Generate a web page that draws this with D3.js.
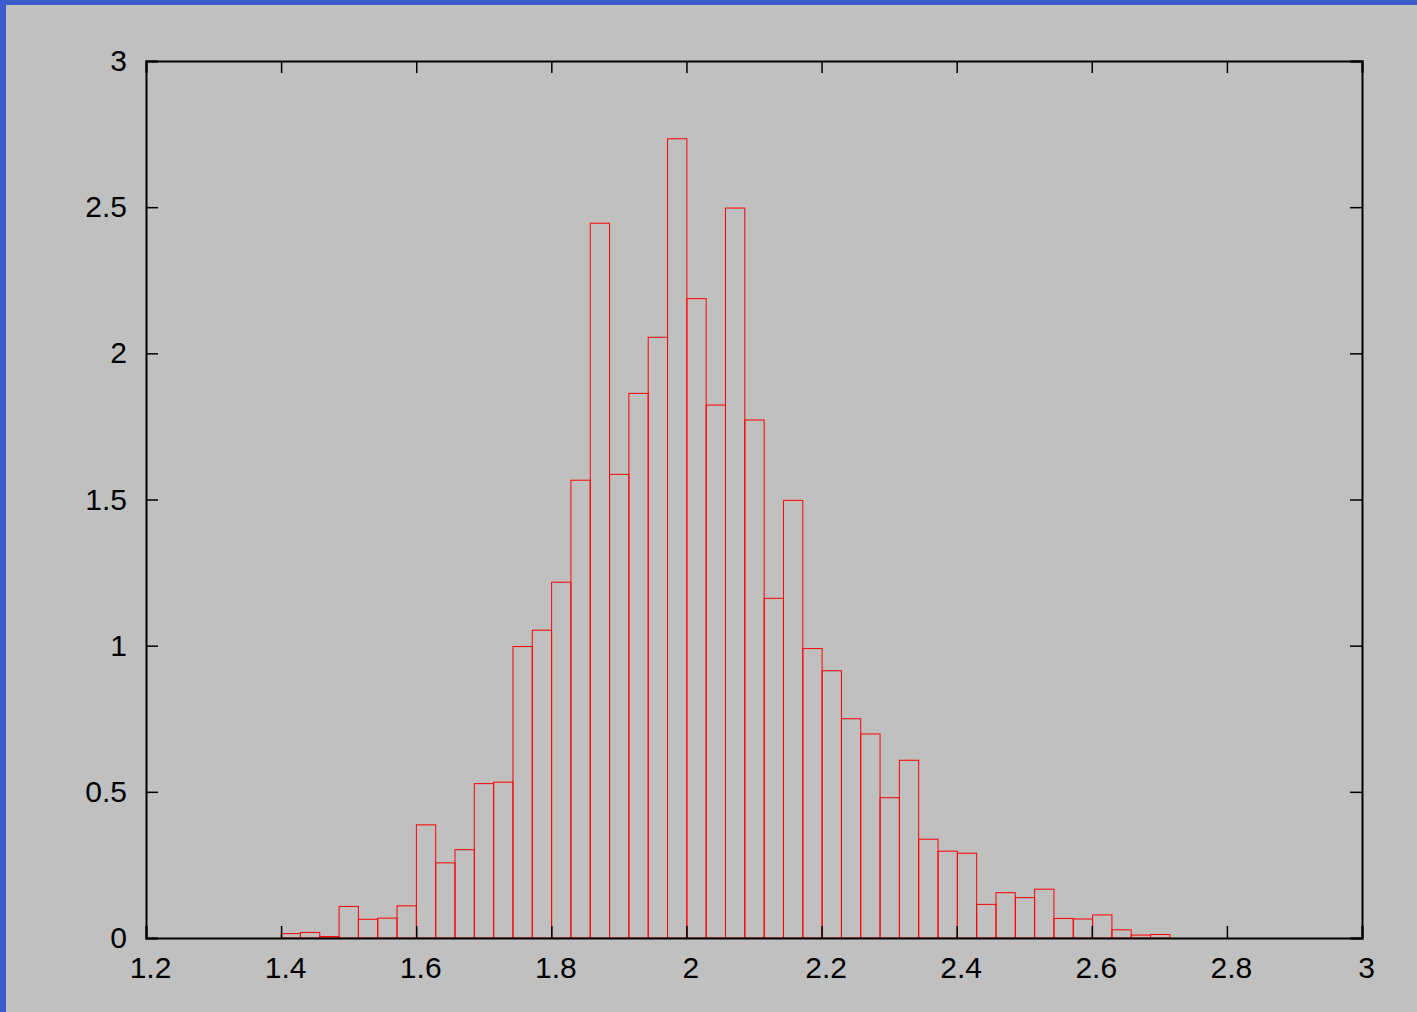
<!DOCTYPE html>
<html>
<head>
<meta charset="utf-8">
<script src="https://cdn.jsdelivr.net/npm/d3@7"></script>
<style>
  html, body { margin: 0; padding: 0; background: #c0c0c0; }
  svg { display: block; }
</style>
</head>
<body>
<script>
// histogram bins: start, width and heights
var binStart = 1.4;
var binWidth = 0.0286;
var binValues = [
  0.015, 0.019, 0.005, 0.108, 0.064, 0.068, 0.110, 0.387, 0.257, 0.302,
  0.528, 0.533, 0.997, 1.053, 1.217, 1.566, 2.445, 1.586, 1.863, 2.055,
  2.734, 2.187, 1.823, 2.497, 1.772, 1.162, 1.497, 0.990, 0.914, 0.750,
  0.698, 0.480, 0.608, 0.338, 0.297, 0.290, 0.115, 0.155, 0.138, 0.167,
  0.067, 0.065, 0.079, 0.028, 0.010, 0.012
];
var xTicks = [1.2, 1.4, 1.6, 1.8, 2, 2.2, 2.4, 2.6, 2.8, 3];
var yTicks = [0, 0.5, 1, 1.5, 2, 2.5, 3];

var W = 1417, H = 1012;
var margin = { top: 61, right: 55, bottom: 74, left: 146 };
var width = W - margin.left - margin.right;
var height = H - margin.top - margin.bottom;

var svg = d3.select('body').append('svg')
  .attr('width', W)
  .attr('height', H);

svg.append('rect').attr('width', W).attr('height', H).attr('fill', '#c0c0c0');

// blue window frame on top and left
svg.append('rect').attr('x', 0).attr('y', 0).attr('width', W).attr('height', 5).attr('fill', '#3a5ccc');
svg.append('rect').attr('x', 0).attr('y', 0).attr('width', 6).attr('height', H).attr('fill', '#3a5ccc');

var g = svg.append('g').attr('transform', 'translate(' + margin.left + ',' + margin.top + ')');

var x = d3.scaleLinear().domain([1.2, 3]).range([0, width]);
var y = d3.scaleLinear().domain([0, 3]).range([height, 0]);

var bins = binValues.map(function (v, i) {
  return { x0: binStart + i * binWidth, x1: binStart + (i + 1) * binWidth, v: v };
});

g.selectAll('.bar').data(bins).enter().append('rect')
  .attr('class', 'bar')
  .attr('x', function (d) { return x(d.x0); })
  .attr('y', function (d) { return y(d.v); })
  .attr('width', function (d) { return x(d.x1) - x(d.x0); })
  .attr('height', function (d) { return y(0) - y(d.v); })
  .style('fill', 'none')
  .style('stroke', '#ff0000')
  .style('stroke-width', '1px');

// axes with inward ticks on all four sides
var tickLen = 12;
g.append('g').attr('class', 'axis axis--x')
  .attr('transform', 'translate(0,' + height + ')')
  .call(d3.axisBottom(x).tickValues(xTicks).tickSize(-tickLen).tickPadding(19).tickFormat(d3.format('')));
g.append('g').attr('class', 'axis')
  .call(d3.axisTop(x).tickValues(xTicks).tickSize(-tickLen).tickFormat(''));
g.append('g').attr('class', 'axis')
  .call(d3.axisLeft(y).tickValues(yTicks).tickSize(-tickLen).tickPadding(19).tickFormat(d3.format('')));
g.append('g').attr('class', 'axis')
  .attr('transform', 'translate(' + width + ',0)')
  .call(d3.axisRight(y).tickValues(yTicks).tickSize(-tickLen).tickFormat(''));

d3.selectAll('.axis path').style('stroke', '#000').style('stroke-width', '2px').style('fill', 'none');
d3.selectAll('.axis line').style('stroke', '#000').style('stroke-width', '1.5px');
d3.selectAll('.axis text')
  .style('font-family', '"Liberation Sans", Arial, sans-serif')
  .style('font-size', '30px')
  .style('fill', '#000');
d3.selectAll('.axis--x text').attr('dx', 4);
</script>
</body>
</html>
